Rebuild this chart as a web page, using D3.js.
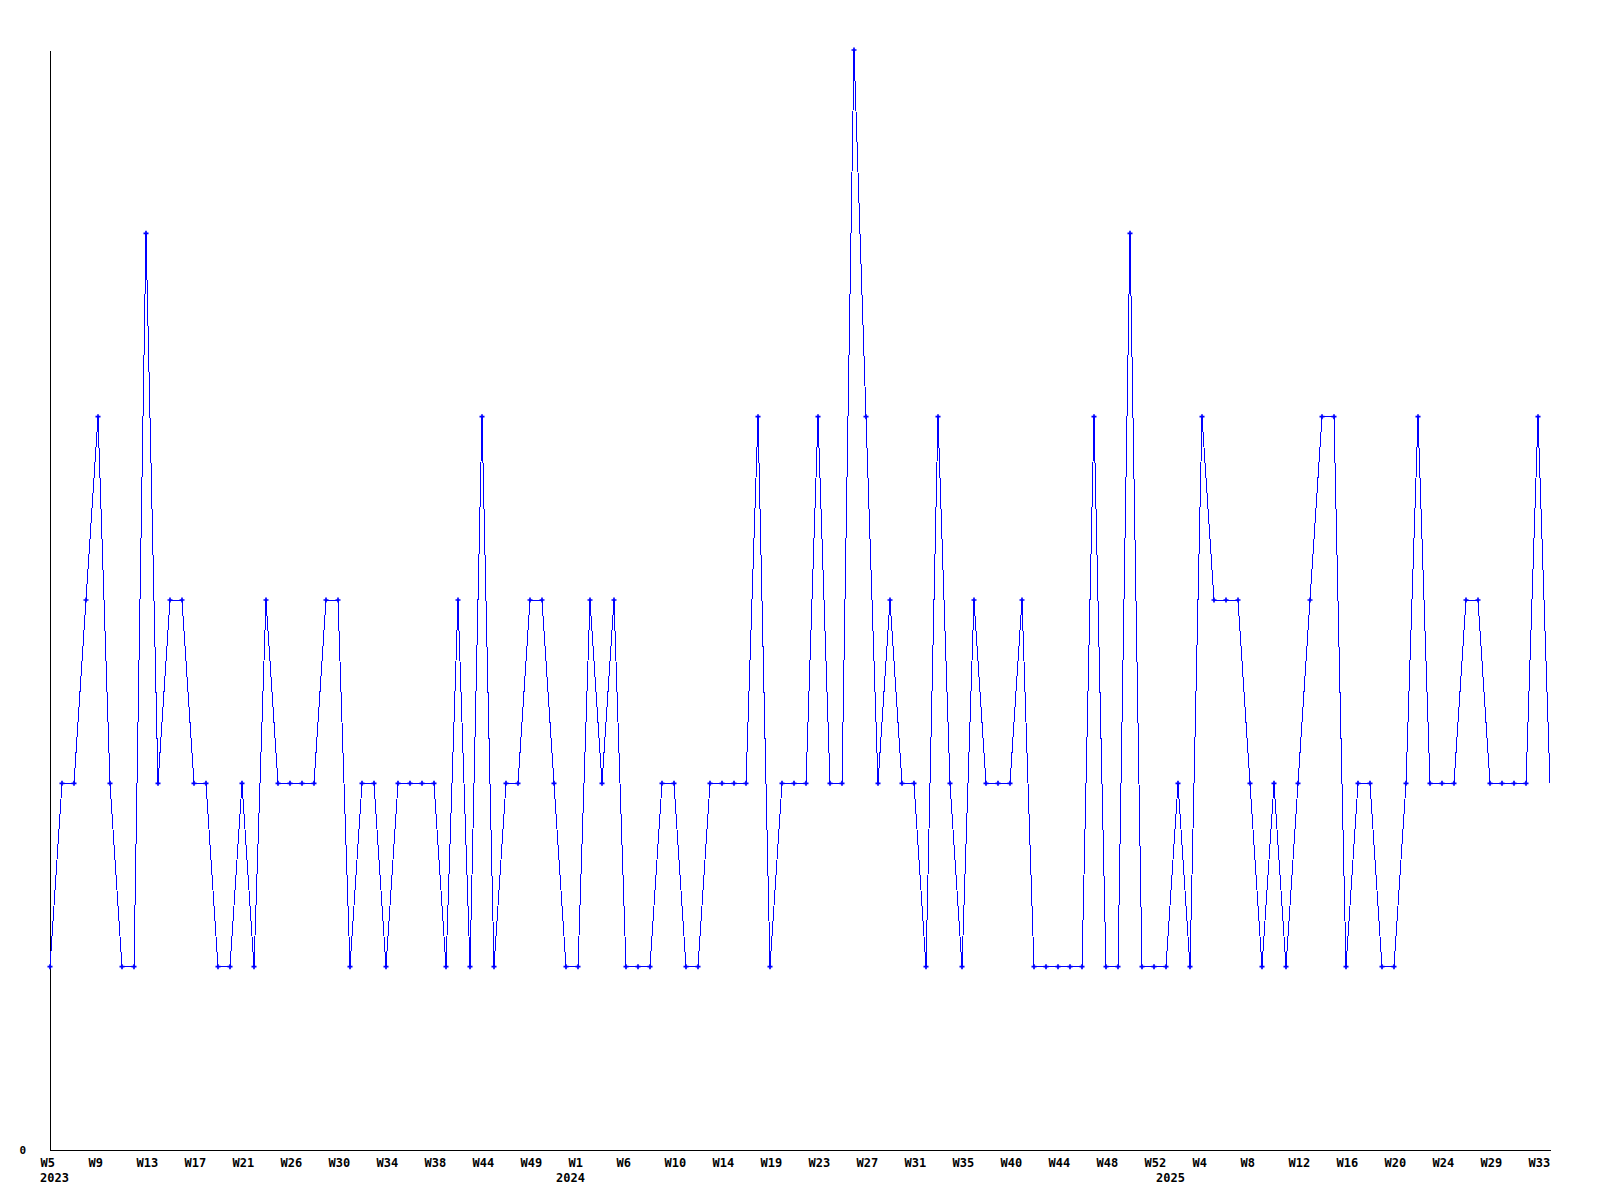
<!DOCTYPE html>
<html>
<head>
<meta charset="utf-8">
<script src="https://cdn.jsdelivr.net/npm/d3@7"></script>
<style>
  html, body { margin: 0; padding: 0; background: #fff; }
  svg { display: block; }
  text { font-family: "DejaVu Sans Mono", monospace; font-weight: bold; fill: #000; }
</style>
</head>
<body>
<svg id="chart" width="1600" height="1200"></svg>
<script>
// ---- data ----
const years = [
  "2023","2023","2023","2023","2023","2023","2023","2023","2023","2023",
  "2023","2023","2023","2023","2023","2023","2023","2023","2023","2023",
  "2023","2023","2023","2023","2023","2023","2023","2023","2023","2023",
  "2023","2023","2023","2023","2023","2023","2023","2023","2023","2023",
  "2023","2023","2023","2023",
  "2024","2024","2024","2024","2024","2024","2024","2024","2024","2024",
  "2024","2024","2024","2024","2024","2024","2024","2024","2024","2024",
  "2024","2024","2024","2024","2024","2024","2024","2024","2024","2024",
  "2024","2024","2024","2024","2024","2024","2024","2024","2024","2024",
  "2024","2024","2024","2024","2024","2024","2024","2024","2024",
  "2025","2025","2025","2025","2025","2025","2025","2025","2025","2025",
  "2025","2025","2025","2025","2025","2025","2025","2025","2025","2025",
  "2025","2025","2025","2025","2025","2025","2025","2025","2025","2025",
  "2025","2025","2025"
];
const weeks = [
  "W5","W6","W7","W8","W9","W10","W11","W12","W13","W14",
  "W15","W16","W17","W18","W19","W20","W21","W22","W23","W24",
  "W26","W27","W28","W29","W30","W31","W32","W33","W34","W35",
  "W36","W37","W38","W39","W41","W42","W44","W45","W46","W48",
  "W49","W50","W51","W52",
  "W1","W2","W3","W5","W6","W7","W8","W9","W10","W11",
  "W12","W13","W14","W15","W16","W18","W19","W20","W21","W22",
  "W23","W24","W25","W26","W27","W28","W29","W30","W31","W32",
  "W33","W34","W35","W36","W37","W38","W40","W41","W42","W43",
  "W44","W45","W46","W47","W48","W49","W50","W51","W52",
  "W1","W2","W3","W4","W5","W6","W7","W8","W9","W10",
  "W11","W12","W13","W14","W15","W16","W17","W18","W19","W20",
  "W21","W22","W23","W24","W25","W27","W28","W29","W30","W31",
  "W32","W33","W34"
];
const values = [
  1,2,2,3,4,2,1,1,5,2,
  3,3,2,2,1,1,2,1,3,2,
  2,2,2,3,3,1,2,2,1,2,
  2,2,2,1,3,1,4,1,2,2,
  3,3,2,1,
  1,3,2,3,1,1,1,2,2,1,
  1,2,2,2,2,4,1,2,2,2,
  4,2,2,6,4,2,3,2,2,1,
  4,2,1,3,2,2,2,3,1,1,
  1,1,1,4,1,1,5,1,1,
  1,2,1,4,3,3,3,2,1,2,
  1,2,3,4,4,1,2,2,1,1,
  2,4,2,2,2,3,3,2,2,2,
  2,4,2
];
const tickKeys = [
  "2023-W5","2023-W9","2023-W13","2023-W17","2023-W21","2023-W26","2023-W30","2023-W34",
  "2023-W38","2023-W44","2023-W49","2024-W1","2024-W6","2024-W10","2024-W14","2024-W19",
  "2024-W23","2024-W27","2024-W31","2024-W35","2024-W40","2024-W44","2024-W48","2024-W52",
  "2025-W4","2025-W8","2025-W12","2025-W16","2025-W20","2025-W24","2025-W29","2025-W33"
];
const yearLabels = ["2023","2024","2025"];
const yearLabelKeys = ["2023-W5","2023-W52","2025-W1"];
const yTicks = [0];

// ---- chart ----
const keys = weeks.map((w, i) => years[i] + "-" + w);
const data = keys.map((k, i) => ({ key: k, week: weeks[i], value: values[i] }));
const weekOf = new Map(keys.map((k, i) => [k, weeks[i]]));

const svg = d3.select("#chart");
const mLeft = 50, mRight = 1550, mTop = 50, mBottom = 1150;

const x = d3.scalePoint().domain(keys).range([mLeft, mRight]);
const y = d3.scaleLinear().domain([0, 6]).range([mBottom, mTop]);

// x axis
const xAxis = svg.append("g")
  .attr("transform", `translate(0,${mBottom})`)
  .call(d3.axisBottom(x).tickValues(tickKeys).tickSize(0).tickSizeOuter(0)
    .tickFormat(k => weekOf.get(k)));
xAxis.select(".domain").attr("stroke", "#000").attr("stroke-width", 1.2).attr("shape-rendering", "crispEdges");
xAxis.selectAll(".tick text")
  .attr("text-anchor", "start")
  .attr("x", -10)
  .attr("y", 8)
  .attr("dy", "0.71em")
  .style("font-size", "12px")
  .style("font-family", "'DejaVu Sans Mono', monospace")
  .style("font-weight", "bold");

// year labels
svg.append("g").selectAll("text")
  .data(yearLabels)
  .join("text")
  .attr("x", (d, i) => x(yearLabelKeys[i]) - 10)
  .attr("y", 1182)
  .style("font-size", "12px")
  .text(d => d);

// y axis
const yAxis = svg.append("g")
  .attr("transform", `translate(${mLeft},0)`)
  .call(d3.axisLeft(y).tickValues(yTicks).tickSize(0).tickSizeOuter(0).tickFormat(d3.format("d")));
yAxis.select(".domain").attr("stroke", "#000").attr("stroke-width", 1.2).attr("shape-rendering", "crispEdges");
yAxis.selectAll(".tick text")
  .attr("x", -24)
  .attr("dy", "0.35em")
  .style("font-size", "11px")
  .style("font-family", "'DejaVu Sans Mono', monospace")
  .style("font-weight", "bold");

// line
const line = d3.line().x(d => x(d.key)).y(d => y(d.value));
svg.append("path")
  .datum(data)
  .attr("fill", "none")
  .attr("stroke", "#0000ff")
  .attr("stroke-width", 1)
  .attr("shape-rendering", "crispEdges")
  .attr("d", line);

// markers (not on the last point)
const cross = d3.symbol().type(d3.symbolCross).size(14);
svg.append("g").selectAll("path")
  .data(data.slice(0, data.length - 1))
  .join("path")
  .attr("transform", d => `translate(${x(d.key)},${y(d.value)})`)
  .attr("d", cross)
  .attr("fill", "#0000ff");
</script>
</body>
</html>
